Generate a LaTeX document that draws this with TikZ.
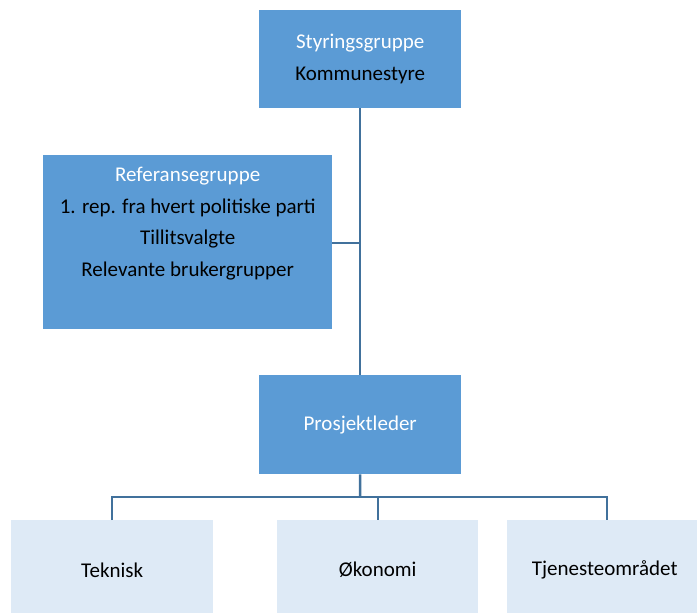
\documentclass[tikz,border=0pt]{standalone}
\usepackage{fontspec}
\setmainfont{Carlito}
\definecolor{boxdark}{HTML}{5B9BD5}
\definecolor{boxlight}{HTML}{DEEAF6}
\definecolor{linec}{HTML}{41719C}
\begin{document}
\begin{tikzpicture}[x=1pt,y=-1pt,
  darkbox/.style={fill=boxdark, draw=none, anchor=north west, align=center, inner sep=0pt,
    font=\fontsize{21}{31.5}\selectfont},
  lightbox/.style={fill=boxlight, draw=none, anchor=north west, align=center, inner sep=0pt,
    font=\fontsize{21}{31.5}\selectfont},
  conn/.style={draw=linec, line width=2.5pt}]
\useasboundingbox (0,0) rectangle (697,613);
\clip (0,0) rectangle (697,613);
\node[darkbox, minimum width=202pt, minimum height=98pt] (sty) at (259,10)
  {\textcolor{white}{Styringsgruppe}\\Kommunestyre};
\node[darkbox, minimum width=289pt, minimum height=174pt] (ref) at (43,155)
  {\textcolor{white}{Referansegruppe}\\1. rep. fra hvert politiske parti\\Tillitsvalgte\\Relevante brukergrupper\\\strut};
\node[darkbox, minimum width=202pt, minimum height=99pt, text=white] (pro) at (259,375)
  {Prosjektleder};
\node[lightbox, minimum width=202pt, minimum height=100pt] (tek) at (11,520) {Teknisk};
\node[lightbox, minimum width=201pt, minimum height=100pt] (oko) at (277,520) {Økonomi};
\node[lightbox, minimum width=195pt, minimum height=100pt] (tje) at (507,520) {Tjenesteområdet};
\coordinate (junc) at (360,243);
\coordinate (bus) at (360,497);
\draw[conn] (sty.south) -- (pro.north);
\draw[conn] (ref.east |- junc) -- (junc);
\draw[conn] (pro.south) -- (bus);
\draw[conn] (tek.north -| 112,0) |- (bus) -| (tje.north -| 607,0);
\draw[conn] (378,497) -- (oko.north -| 378,0);
\end{tikzpicture}
\end{document}
